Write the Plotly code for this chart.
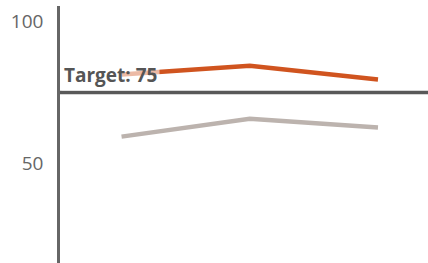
import plotly.graph_objects as go

categories = ["A", "B", "C"]
series_orange = [81.4, 84.5, 79.6]
series_gray = [59.5, 65.8, 62.7]
target_value = 75
target_label = "Target: 75"
tick_vals = [50, 100]

fig = go.Figure()
fig.add_trace(go.Scatter(x=categories, y=series_gray, mode="lines",
                         line=dict(color="#BCB3AE", width=4.5), hoverinfo="skip"))
fig.add_trace(go.Scatter(x=categories, y=series_orange, mode="lines",
                         line=dict(color="#D0541F", width=4.5), hoverinfo="skip"))

fig.add_shape(type="line", xref="paper", x0=0, x1=1, yref="y", y0=target_value, y1=target_value,
              line=dict(color="#595959", width=3.5))
fig.add_annotation(xref="paper", x=0, yref="y", y=target_value, text="<b>" + target_label + "</b>",
                   showarrow=False, xanchor="left", yanchor="bottom", xshift=1, yshift=2,
                   font=dict(family="Open Sans", size=19, color="#555555"),
                   bgcolor="rgba(255,255,255,0.6)", borderpad=2)

fig.update_layout(
    width=428, height=263,
    margin=dict(l=60, r=0, t=6, b=0, autoexpand=False),
    paper_bgcolor="white", plot_bgcolor="white",
    showlegend=False,
    xaxis=dict(type="category", range=[-0.48, 2.39], showticklabels=False, showgrid=False,
               zeroline=False, showline=False, automargin=False),
    yaxis=dict(range=[15, 105.5], tickvals=tick_vals, showgrid=False, zeroline=False,
               showline=True, linecolor="#666666", linewidth=2.5, ticks="",
               ticklabelstandoff=10, automargin=False,
               tickfont=dict(family="Open Sans", size=19, color="#666666")),
)
fig.write_html("out.html", config={"displayModeBar": False},
               post_script="document.body.style.margin='0';")
